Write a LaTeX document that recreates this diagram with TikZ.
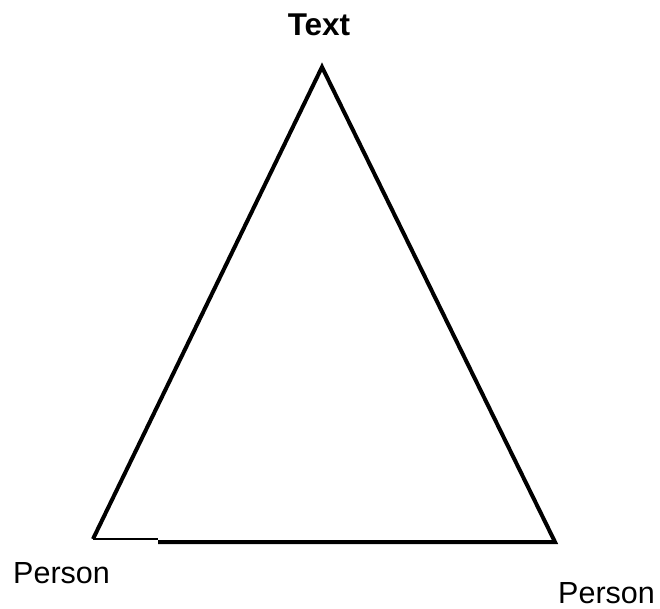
\documentclass[tikz,border=0pt]{standalone}
\usepackage{fontspec}
\setmainfont{Liberation Sans}
\begin{document}
\begin{tikzpicture}[x=1pt,y=-1pt,
  edge/.style={line width=4pt,line join=miter},
  thinedge/.style={line width=2pt},
  lbl/.style={inner sep=0pt,font=\fontsize{30.5}{36}\selectfont}]
\useasboundingbox (0,0) rectangle (660,608);
\coordinate (apex) at (322,67);
\coordinate (bl) at (93,539);
\coordinate (bm) at (158,542);
\coordinate (bmt) at (158,539);
\coordinate (br) at (555,542);
\draw[edge] (bl) -- (apex) -- (br) -- (bm);
\draw[thinedge] (bl) -- (bmt);
\node[lbl,anchor=base,font=\fontsize{31.5}{36}\selectfont\bfseries] (t) at (319,35) {Text};
\node[lbl,anchor=base west] (p1) at (13,583) {Person};
\node[lbl,anchor=base west] (p2) at (558,603) {Person};
\end{tikzpicture}
\end{document}
